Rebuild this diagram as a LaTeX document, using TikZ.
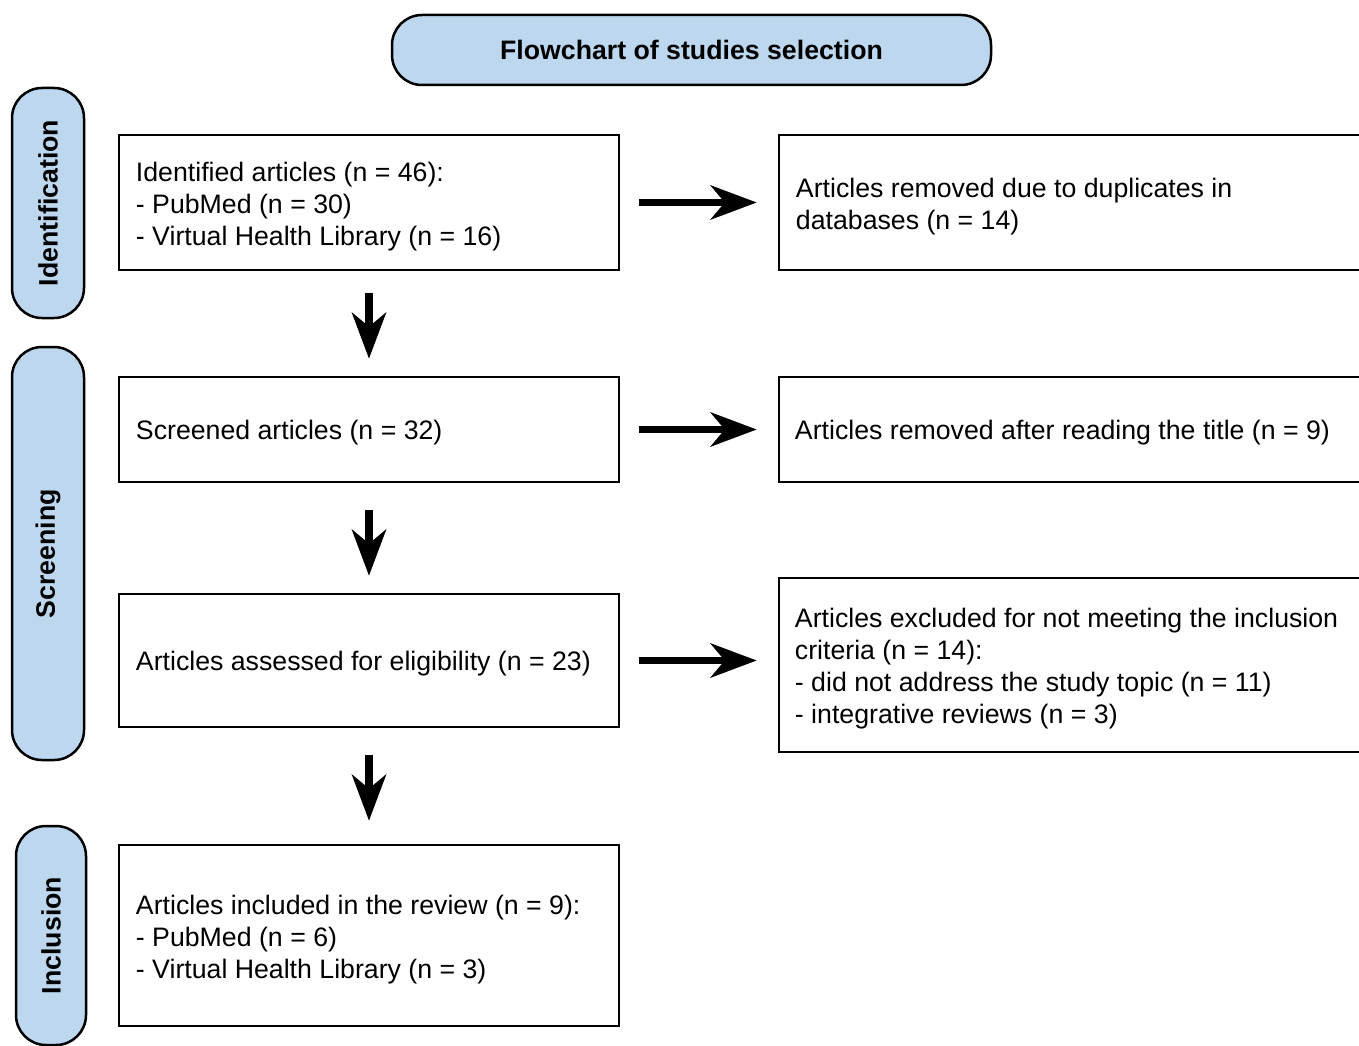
\documentclass[tikz,border=0pt]{standalone}
\usepackage{fontspec}
\setmainfont{Liberation Sans}
\usetikzlibrary{arrows.meta}
\definecolor{capfill}{RGB}{189,215,238}
\begin{document}
\begin{tikzpicture}[x=1pt,y=-1pt,
  basefont/.style={font=\fontsize{26.7}{32}\selectfont},
  stepbox/.style={draw, line width=2.5pt, rectangle, inner sep=0pt},
  boxtext/.style={anchor=west, align=left, basefont, inner sep=0pt},
  capsule/.style={draw, fill=capfill, line width=2.5pt, rounded corners=30pt,
    font=\fontsize{26.7}{32}\selectfont\bfseries, inner sep=0pt},
  flow/.style={line width=7.5pt, -{Stealth[length=46pt,width=34pt,inset=14pt]}}
]
\useasboundingbox (0,0) rectangle (1359,1046);
\clip (0,0) rectangle (1359,1046);

% heading
\node[capsule, minimum width=599pt, minimum height=70pt] (title) at (691.5,50)
  {Flowchart of studies selection};

% phase labels
\node[capsule, rotate=90, minimum width=230pt, minimum height=72pt] (idf) at (48,203)
  {Identification};
\node[capsule, rotate=90, minimum width=413pt, minimum height=72pt] (scr) at (48,553.5)
  {Screening};
\node[capsule, rotate=90, minimum width=219pt, minimum height=70pt] (inc) at (51,935.5)
  {Inclusion};

% main column
\node[stepbox, minimum width=500pt, minimum height=135pt] (b1) at (369,202.5) {};
\node[stepbox, minimum width=500pt, minimum height=105pt] (b2) at (369,429.5) {};
\node[stepbox, minimum width=500pt, minimum height=133pt] (b3) at (369,660.5) {};
\node[stepbox, minimum width=500pt, minimum height=181pt] (b4) at (369,935.5) {};

\node[boxtext] (b1t) at ([xshift=18pt,yshift=-4pt]b1.west)
  {Identified articles (n = 46):\\- PubMed (n = 30)\\- Virtual Health Library (n = 16)};
\node[boxtext] (b2t) at ([xshift=18pt,yshift=-3pt]b2.west)
  {Screened articles (n = 32)};
\node[boxtext] (b3t) at ([xshift=18pt,yshift=-3pt]b3.west)
  {Articles assessed for eligibility (n = 23)};
\node[boxtext] (b4t) at ([xshift=18pt,yshift=-4pt]b4.west)
  {Articles included in the review (n = 9):\\- PubMed (n = 6)\\- Virtual Health Library (n = 3)};

% exclusion column (runs past the right edge)
\node[stepbox, minimum width=600pt, minimum height=135pt] (r1) at (1079,202.5) {};
\node[stepbox, minimum width=600pt, minimum height=105pt] (r2) at (1079,429.5) {};
\node[stepbox, minimum width=600pt, minimum height=174pt] (r3) at (1079,665) {};

\node[boxtext] (r1t) at ([xshift=18pt,yshift=-4pt]r1.west)
  {Articles removed due to duplicates in\\databases (n = 14)};
\node[boxtext] (r2t) at ([xshift=17pt,yshift=-3pt]r2.west)
  {Articles removed after reading the title (n = 9)};
\node[boxtext] (r3t) at ([xshift=17pt,yshift=-4pt]r3.west)
  {Articles excluded for not meeting the inclusion\\criteria (n = 14):\\- did not address the study topic (n = 11)\\- integrative reviews (n = 3)};

% vertical flow
\draw[flow, shorten <=22pt, shorten >=17pt] (b1.south) -- (b2.north);
\draw[flow, shorten <=27pt, shorten >=17pt] (b2.south) -- (b3.north);
\draw[flow, shorten <=27pt, shorten >=23pt] (b3.south) -- (b4.north);

% horizontal flow
\draw[flow, shorten <=19pt, shorten >=21pt] (b1.east) -- (b1.east -| r1.west);
\draw[flow, shorten <=19pt, shorten >=21pt] (b2.east) -- (b2.east -| r2.west);
\draw[flow, shorten <=19pt, shorten >=21pt] (b3.east) -- (b3.east -| r3.west);
\end{tikzpicture}
\end{document}
